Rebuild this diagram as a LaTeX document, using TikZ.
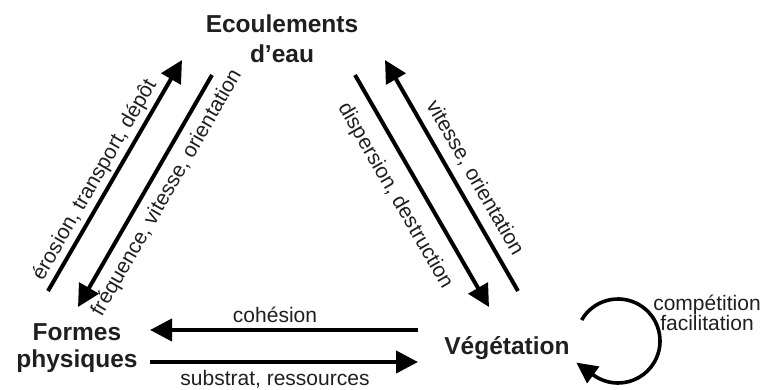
\documentclass[tikz,border=0pt]{standalone}
\usepackage{fontspec}
\setmainfont{Liberation Sans}
\usetikzlibrary{arrows.meta}
\begin{document}
\begin{tikzpicture}[x=1pt,y=-1pt,
  concept/.style={font=\bfseries\fontsize{24.5}{30}\selectfont, align=center, inner sep=0pt, text=black!88},
  lbl/.style={font=\fontsize{21}{20}\selectfont, align=center, inner sep=0pt, text=black!88},
  flow/.style={line width=4pt, -{Triangle[length=22pt,width=22pt]}},
  loopflow/.style={line width=3.6pt, -{Triangle[length=21pt,width=20pt]}},
]
\useasboundingbox (0,0) rectangle (762,390);

% main concepts (base anchor = baseline of the last line)
\node[concept, anchor=base] (eau) at (282,63) {Ecoulements\\d'eau};
\node[concept, anchor=base, font=\bfseries\fontsize{24.5}{27}\selectfont] (formes) at (77,367) {Formes\\physiques};
\node[concept, anchor=base] (veg) at (507,354) {Végétation};

% arrow end points
\coordinate (a1s) at (48,291);  \coordinate (a1e) at (182,60);
\coordinate (a2s) at (212,75);  \coordinate (a2e) at (78,307);
\coordinate (a3s) at (355,75);  \coordinate (a3e) at (489,307);
\coordinate (a4s) at (518,291); \coordinate (a4e) at (385,60);
\coordinate (cohs) at (418,330); \coordinate (cohe) at (150,330);
\coordinate (subs) at (150,362); \coordinate (sube) at (418,362);

\draw[flow] (a1s) -- (a1e);
\draw[flow] (a2s) -- (a2e);
\draw[flow] (a3s) -- (a3e);
\draw[flow] (a4s) -- (a4e);
\draw[flow] (cohs) -- (cohe);
\draw[flow] (subs) -- (sube);

% self loop
\coordinate (loopc) at (618,341);
\draw[loopflow] ([shift={(150:42pt)}]loopc) arc[start angle=150, end angle=-126, radius=42pt] -- ++(-17,-12.4);

% labels
\node[lbl, rotate=60] (l1) at (95,180) {érosion, transport, dépôt};
\node[lbl, rotate=60] (l2) at (167,193) {fréquence, vitesse, orientation};
\node[lbl, rotate=-60] (l3) at (395,196) {dispersion, destruction};
\node[lbl, rotate=-60] (l4) at (475,178) {vitesse, orientation};
\node[lbl, anchor=base] (l5) at (275,322) {cohésion};
\node[lbl, anchor=base] (l6) at (275,385) {substrat, ressources};
\node[lbl, anchor=base] (l7) at (707,330) {compétition\\facilitation};
\end{tikzpicture}
\end{document}
